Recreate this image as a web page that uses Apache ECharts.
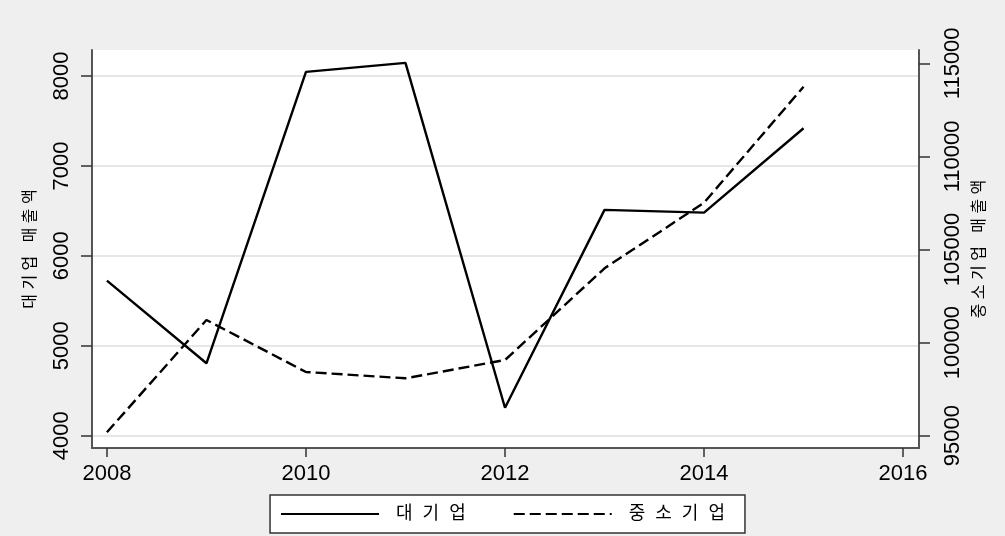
<!DOCTYPE html>
<html><head><meta charset="utf-8">
<script src="https://cdn.jsdelivr.net/npm/echarts@6/dist/echarts.min.js"></script>
<style>html,body{margin:0;padding:0;background:#efefef}#c{width:1005px;height:536px}</style>
</head><body><div id="c"></div>
<script>
const years = [2008, 2009, 2010, 2011, 2012, 2013, 2014, 2015];
const largeFirms = [5724, 4805, 8046, 8146, 4311, 6511, 6480, 7419];
const smeFirms = [95183, 101214, 98421, 98083, 99065, 103990, 107513, 113743];
const xTicks = [2008, 2010, 2012, 2014, 2016];
const leftTicks = [4000, 5000, 6000, 7000, 8000];
const rightTicks = [95000, 100000, 105000, 110000, 115000];
const seriesNames = ['대  기  업', '중  소  기  업'];
const axisNames = ['대 기 업   매 출 액', '중 소 기 업   매 출 액'];

const FONT = 'Liberation Sans, Arial, Noto Sans CJK KR, sans-serif';
const KFONT = 'Liberation Sans, Noto Sans CJK KR, sans-serif';
const plain = v => String(v);

const chart = echarts.init(document.getElementById('c'), null, {renderer: 'canvas'});
const pair = (xs, ys) => xs.map((x, i) => [x, ys[i]]);

chart.setOption({
  backgroundColor: '#efefef',
  animation: false,
  grid: {left: 92, right: 86, top: 50, bottom: 88, show: true, backgroundColor: '#ffffff', borderWidth: 0},
  xAxis: {
    type: 'value', min: 2007.85, max: 2016.16,
    axisLine: {show: true, onZero: false, lineStyle: {color: '#555', width: 2}},
    axisTick: {show: true, length: 9, customValues: xTicks, lineStyle: {color: '#333', width: 1.5}},
    axisLabel: {customValues: xTicks, formatter: plain, margin: 15, color: '#000', fontSize: 22, fontFamily: FONT},
    splitLine: {show: false}
  },
  yAxis: [{
    type: 'value', position: 'left', min: 3863, max: 8289,
    name: axisNames[0], nameLocation: 'middle', nameRotate: 90, nameGap: 53,
    nameTextStyle: {fontSize: 16, color: '#000', fontFamily: KFONT},
    axisLine: {show: true, lineStyle: {color: '#555', width: 2}},
    axisTick: {show: true, length: 11, customValues: leftTicks, lineStyle: {color: '#333', width: 1.5}},
    axisLabel: {customValues: leftTicks, formatter: plain, rotate: 90, margin: 19, color: '#000', fontSize: 22, fontFamily: FONT},
    splitLine: {show: true, lineStyle: {color: '#e6e6e6', width: 2}}
  }, {
    type: 'value', position: 'right', min: 94340, max: 115714,
    name: axisNames[1], nameLocation: 'middle', nameRotate: 90, nameGap: 44,
    nameTextStyle: {fontSize: 16, color: '#000', fontFamily: KFONT},
    axisLine: {show: true, lineStyle: {color: '#555', width: 2}},
    axisTick: {show: true, length: 11, customValues: rightTicks, lineStyle: {color: '#333', width: 1.5}},
    axisLabel: {customValues: rightTicks, formatter: plain, rotate: 90, margin: 23, color: '#000', fontSize: 22, fontFamily: FONT},
    splitLine: {show: false}
  }],
  legend: {
    bottom: 3, left: 'center',
    backgroundColor: '#ffffff', borderColor: '#333', borderWidth: 1.5, borderRadius: 0,
    padding: [10, 20, 10, 10],
    itemWidth: 98, itemHeight: 14, itemGap: 47,
    itemStyle: {opacity: 0, color: 'rgba(0,0,0,0)', borderWidth: 0},
    textStyle: {fontSize: 18, color: '#000', fontFamily: KFONT, padding: [0, 0, 0, 12]},
    data: seriesNames
  },
  series: [{
    name: seriesNames[0], type: 'line', yAxisIndex: 0,
    data: pair(years, largeFirms),
    symbol: 'none', showSymbol: false,
    lineStyle: {color: '#000', width: 2.4, type: 'solid'}, itemStyle: {color: '#000'}
  }, {
    name: seriesNames[1], type: 'line', yAxisIndex: 1,
    data: pair(years, smeFirms),
    symbol: 'none', showSymbol: false,
    lineStyle: {color: '#000', width: 2.4, type: [11, 5]}, itemStyle: {color: '#000'}
  }]
});
</script></body></html>
